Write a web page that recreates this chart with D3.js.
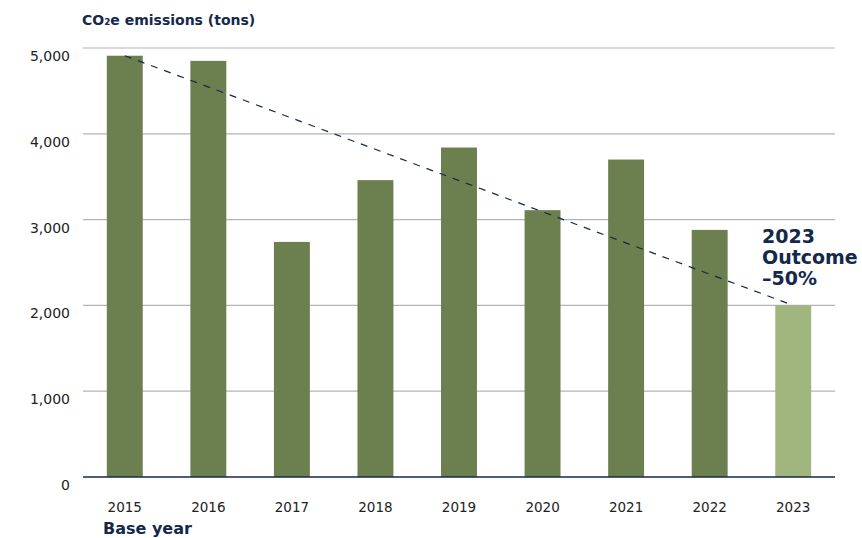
<!DOCTYPE html>
<html>
<head>
<meta charset="utf-8">
<script src="https://cdn.jsdelivr.net/npm/d3@7"></script>
<style>
  html, body { margin: 0; padding: 0; background: #ffffff; }
  svg { display: block; font-family: "DejaVu Sans", "Noto Sans", sans-serif; }
</style>
</head>
<body>
<svg id="chart" width="862" height="538"></svg>
<script>
(function () {
const years = ["2015", "2016", "2017", "2018", "2019", "2020", "2021", "2022", "2023"];
const emissions = [4910, 4850, 2740, 3460, 3840, 3110, 3700, 2880, 2000];
const yTicks = [0, 1000, 2000, 3000, 4000, 5000];
const titleText = "CO₂e  emissions (tons)";
const annotationLines = ["2023", "Outcome", "\u201350%"];
const xAxisTitle = "Base year";

const svg = d3.select("#chart");
const navy = "#14284b";
const plotLeft = 83, plotRight = 835, plotTop = 48, plotBottom = 477;

const x = d3.scaleBand().domain(years).range([plotLeft, plotRight]).paddingInner(0.57).paddingOuter(0.285);
const y = d3.scaleLinear().domain([0, 5000]).range([plotBottom, plotTop]);

// gridlines
svg.append("g").selectAll("line").data(yTicks.filter(d => d > 0)).join("line")
  .attr("x1", plotLeft).attr("x2", plotRight)
  .attr("y1", d => y(d)).attr("y2", d => y(d))
  .attr("stroke", "#b4b4b4").attr("stroke-width", 1.2);

// y tick labels
svg.append("g").selectAll("text").data(yTicks).join("text")
  .attr("x", 70).attr("y", d => y(d) + 13)
  .attr("text-anchor", "end")
  .attr("font-size", 14).attr("fill", "#222")
  .text(d => d3.format(",")(d));

// bars
svg.append("g").selectAll("rect").data(years).join("rect")
  .attr("x", d => x(d))
  .attr("width", x.bandwidth())
  .attr("y", (d, i) => y(emissions[i]))
  .attr("height", (d, i) => plotBottom - y(emissions[i]))
  .attr("fill", (d, i) => i === years.length - 1 ? "#a1b57f" : "#6c7f4f");

// baseline
svg.append("line").attr("x1", plotLeft).attr("x2", plotRight)
  .attr("y1", plotBottom).attr("y2", plotBottom)
  .attr("stroke", navy).attr("stroke-width", 1.5);

// trend dashed line
const i0 = 0, i1 = years.length - 1;
svg.append("line")
  .attr("x1", x(years[i0]) + x.bandwidth() / 2).attr("y1", y(emissions[i0]))
  .attr("x2", x(years[i1]) + x.bandwidth() / 2).attr("y2", y(emissions[i1]))
  .attr("stroke", navy).attr("stroke-width", 1.2)
  .attr("stroke-dasharray", "7,7");

// x labels
svg.append("g").selectAll("text").data(years).join("text")
  .attr("x", d => x(d) + x.bandwidth() / 2).attr("y", 512)
  .attr("text-anchor", "middle")
  .attr("font-size", 13.5).attr("fill", "#222")
  .text(d => d);

// title
svg.append("text").attr("x", 82).attr("y", 25)
  .attr("font-size", 14).attr("font-weight", "bold").attr("fill", navy)
  .text(titleText);

// x-axis title
svg.append("text").attr("x", 103).attr("y", 534)
  .attr("font-size", 16).attr("font-weight", "bold").attr("fill", navy)
  .text(xAxisTitle);

// annotation
svg.append("g").selectAll("text").data(annotationLines).join("text")
  .attr("x", 762).attr("y", (d, i) => 243 + i * 21)
  .attr("font-size", 19).attr("font-weight", "bold").attr("fill", navy)
  .text(d => d);
})();
</script>
</body>
</html>
